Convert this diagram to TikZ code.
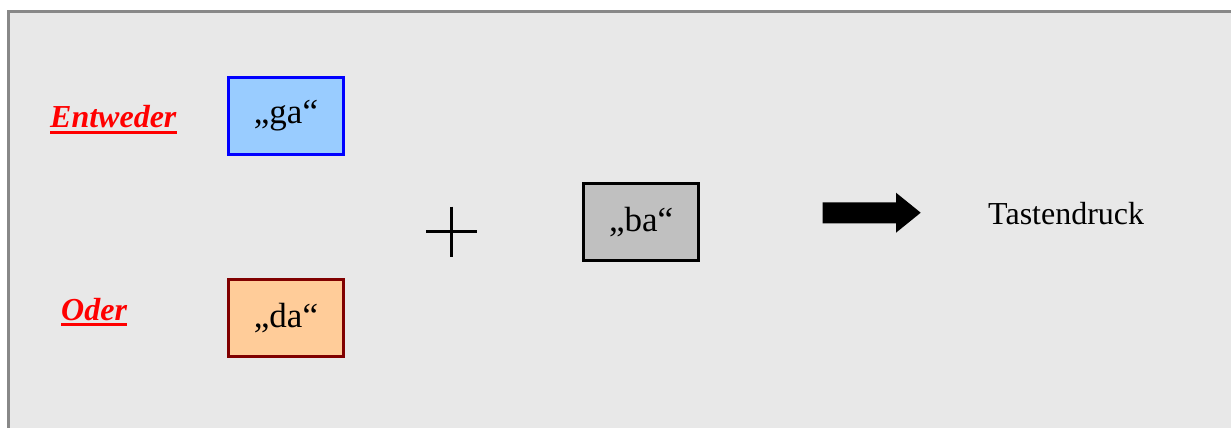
\documentclass[tikz,border=0pt]{standalone}
\usepackage{fontspec}
\setmainfont{Liberation Serif}
\begin{document}
\begin{tikzpicture}[x=1pt,y=-1pt,
  keybox/.style={draw, line width=3pt, minimum width=115.5pt, minimum height=77pt, inner sep=0pt, font=\fontsize{35}{40}\selectfont},
  redlabel/.style={text=red, inner sep=0pt, anchor=base west, font=\fontsize{32}{38}\selectfont\bfseries\itshape},
  ulline/.style={red, line width=3pt}]
\useasboundingbox (0,0) rectangle (1231,428);
\fill[white] (0,0) rectangle (1231,428);
\draw[fill={rgb,255:red,232;green,232;blue,232}, draw={rgb,255:red,136;green,136;blue,136}, line width=3pt] (8,11.5) rectangle (1232,440);
% labels
\node[redlabel] (e) at (50,127.5) {Entweder};
\draw[ulline] ([yshift=-5pt]e.base west) -- ([yshift=-5pt]e.base east);
\node[redlabel] (o) at (61,320) {Oder};
\draw[ulline] ([yshift=-4.7pt]o.base west) -- ([yshift=-4.7pt]o.base east);
% boxes
\node[keybox, draw={rgb,255:red,0;green,0;blue,255}, fill={rgb,255:red,153;green,204;blue,255}] (ga) at (286,116) {„ga“};
\node[keybox, draw={rgb,255:red,128;green,0;blue,0}, fill={rgb,255:red,255;green,204;blue,153}] (da) at (286,318.3) {„da“};
\node[keybox, draw=black, fill={rgb,255:red,192;green,192;blue,192}] (ba) at (641.2,222.4) {„ba“};
% plus
\draw[line width=3pt] (451,206.7) -- (451,257.3);
\draw[line width=3pt] (426,231.7) -- (476.7,231.7);
% arrow
\fill[black] (822.7,202.3) -- (896,202.3) -- (896,192.7) -- (920.7,212.7) -- (896,232.7) -- (896,223.3) -- (822.7,223.3) -- cycle;
\node[inner sep=0pt, anchor=base west, font=\fontsize{32}{38}\selectfont] (t) at (988,224) {Tastendruck};
\end{tikzpicture}
\end{document}
